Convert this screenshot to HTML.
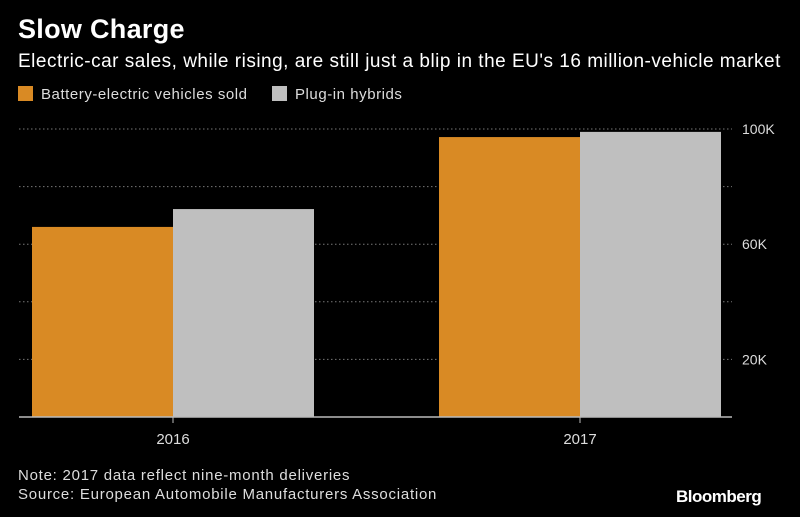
<!DOCTYPE html>
<html><head><meta charset="utf-8"><style>
body{margin:0;background:#000;width:800px;height:517px;overflow:hidden;font-family:"Liberation Sans",sans-serif;color:#fff}
.t{position:absolute;white-space:nowrap}
</style></head><body>
<div class="t" style="left:18px;top:14px;font-size:27px;font-weight:bold;letter-spacing:0.3px">Slow Charge</div>
<div class="t" style="left:18px;top:51px;font-size:19px;letter-spacing:0.5px;color:#fff">Electric-car sales, while rising, are still just a blip in the EU's 16 million-vehicle market</div>
<div class="t" style="left:18px;top:86px;font-size:15px;letter-spacing:0.55px;color:#ddd"><span style="display:inline-block;width:15px;height:15px;background:#d98a24;vertical-align:-2px;margin-right:8px"></span>Battery-electric vehicles sold</div>
<div class="t" style="left:272px;top:86px;font-size:15px;letter-spacing:0.55px;color:#ddd"><span style="display:inline-block;width:15px;height:15px;background:#bfbfbf;vertical-align:-2px;margin-right:8px"></span>Plug-in hybrids</div>
<svg id="c" class="t" style="left:0;top:0" width="800" height="517"></svg>
<div class="t" style="left:18px;top:467px;font-size:15px;letter-spacing:0.75px;color:#ddd">Note: 2017 data reflect nine-month deliveries</div>
<div class="t" style="left:18px;top:486px;font-size:15px;letter-spacing:0.75px;color:#ddd">Source: European Automobile Manufacturers Association</div>
<div class="t" style="left:676px;top:487px;font-size:17px;font-weight:bold;letter-spacing:-0.5px">Bloomberg</div>
<script>
const categories=["2016","2017"];
const bev=[66,97.2];
const phev=[72.2,99];
const ticks=[20,60,100];
const grid=[20,40,60,80,100];
const svg=document.getElementById('c');const NS='http://www.w3.org/2000/svg';
const y0=417,y1=129,vmax=100;const Y=v=>y0-(y0-y1)*v/vmax;
const xL=19,xR=732;const catC=[173,580];const bw=141;
function mk(t,a){const e=document.createElementNS(NS,t);for(const k in a)e.setAttribute(k,a[k]);svg.appendChild(e);return e;}
grid.forEach(g=>{const l=mk('line',{x1:xL,x2:xR,y1:Y(g),y2:Y(g),stroke:'#777','stroke-dasharray':'1.5,2.5','stroke-width':1});

});
ticks.forEach(t=>{const e=mk('text',{x:742,y:Y(t)+5,fill:'#ddd','font-size':14,'font-family':'Liberation Sans'});e.textContent=t+'K';

});
categories.forEach((c,i)=>{
const b1=mk('rect',{x:catC[i]-bw,y:Y(bev[i]),width:bw,height:y0-Y(bev[i]),fill:'#d98a24'});


const b2=mk('rect',{x:catC[i],y:Y(phev[i]),width:bw,height:y0-Y(phev[i]),fill:'#bfbfbf'});


const tk=mk('line',{x1:catC[i],x2:catC[i],y1:y0,y2:y0+6,stroke:'#bbb'});


const tl=mk('text',{x:catC[i],y:y0+27,fill:'#ddd','font-size':15,'text-anchor':'middle','font-family':'Liberation Sans'});tl.textContent=c;


});
const ax=mk('line',{x1:xL,x2:xR,y1:y0,y2:y0,stroke:'#bbb','stroke-width':1.5});


</script>
</body></html>
